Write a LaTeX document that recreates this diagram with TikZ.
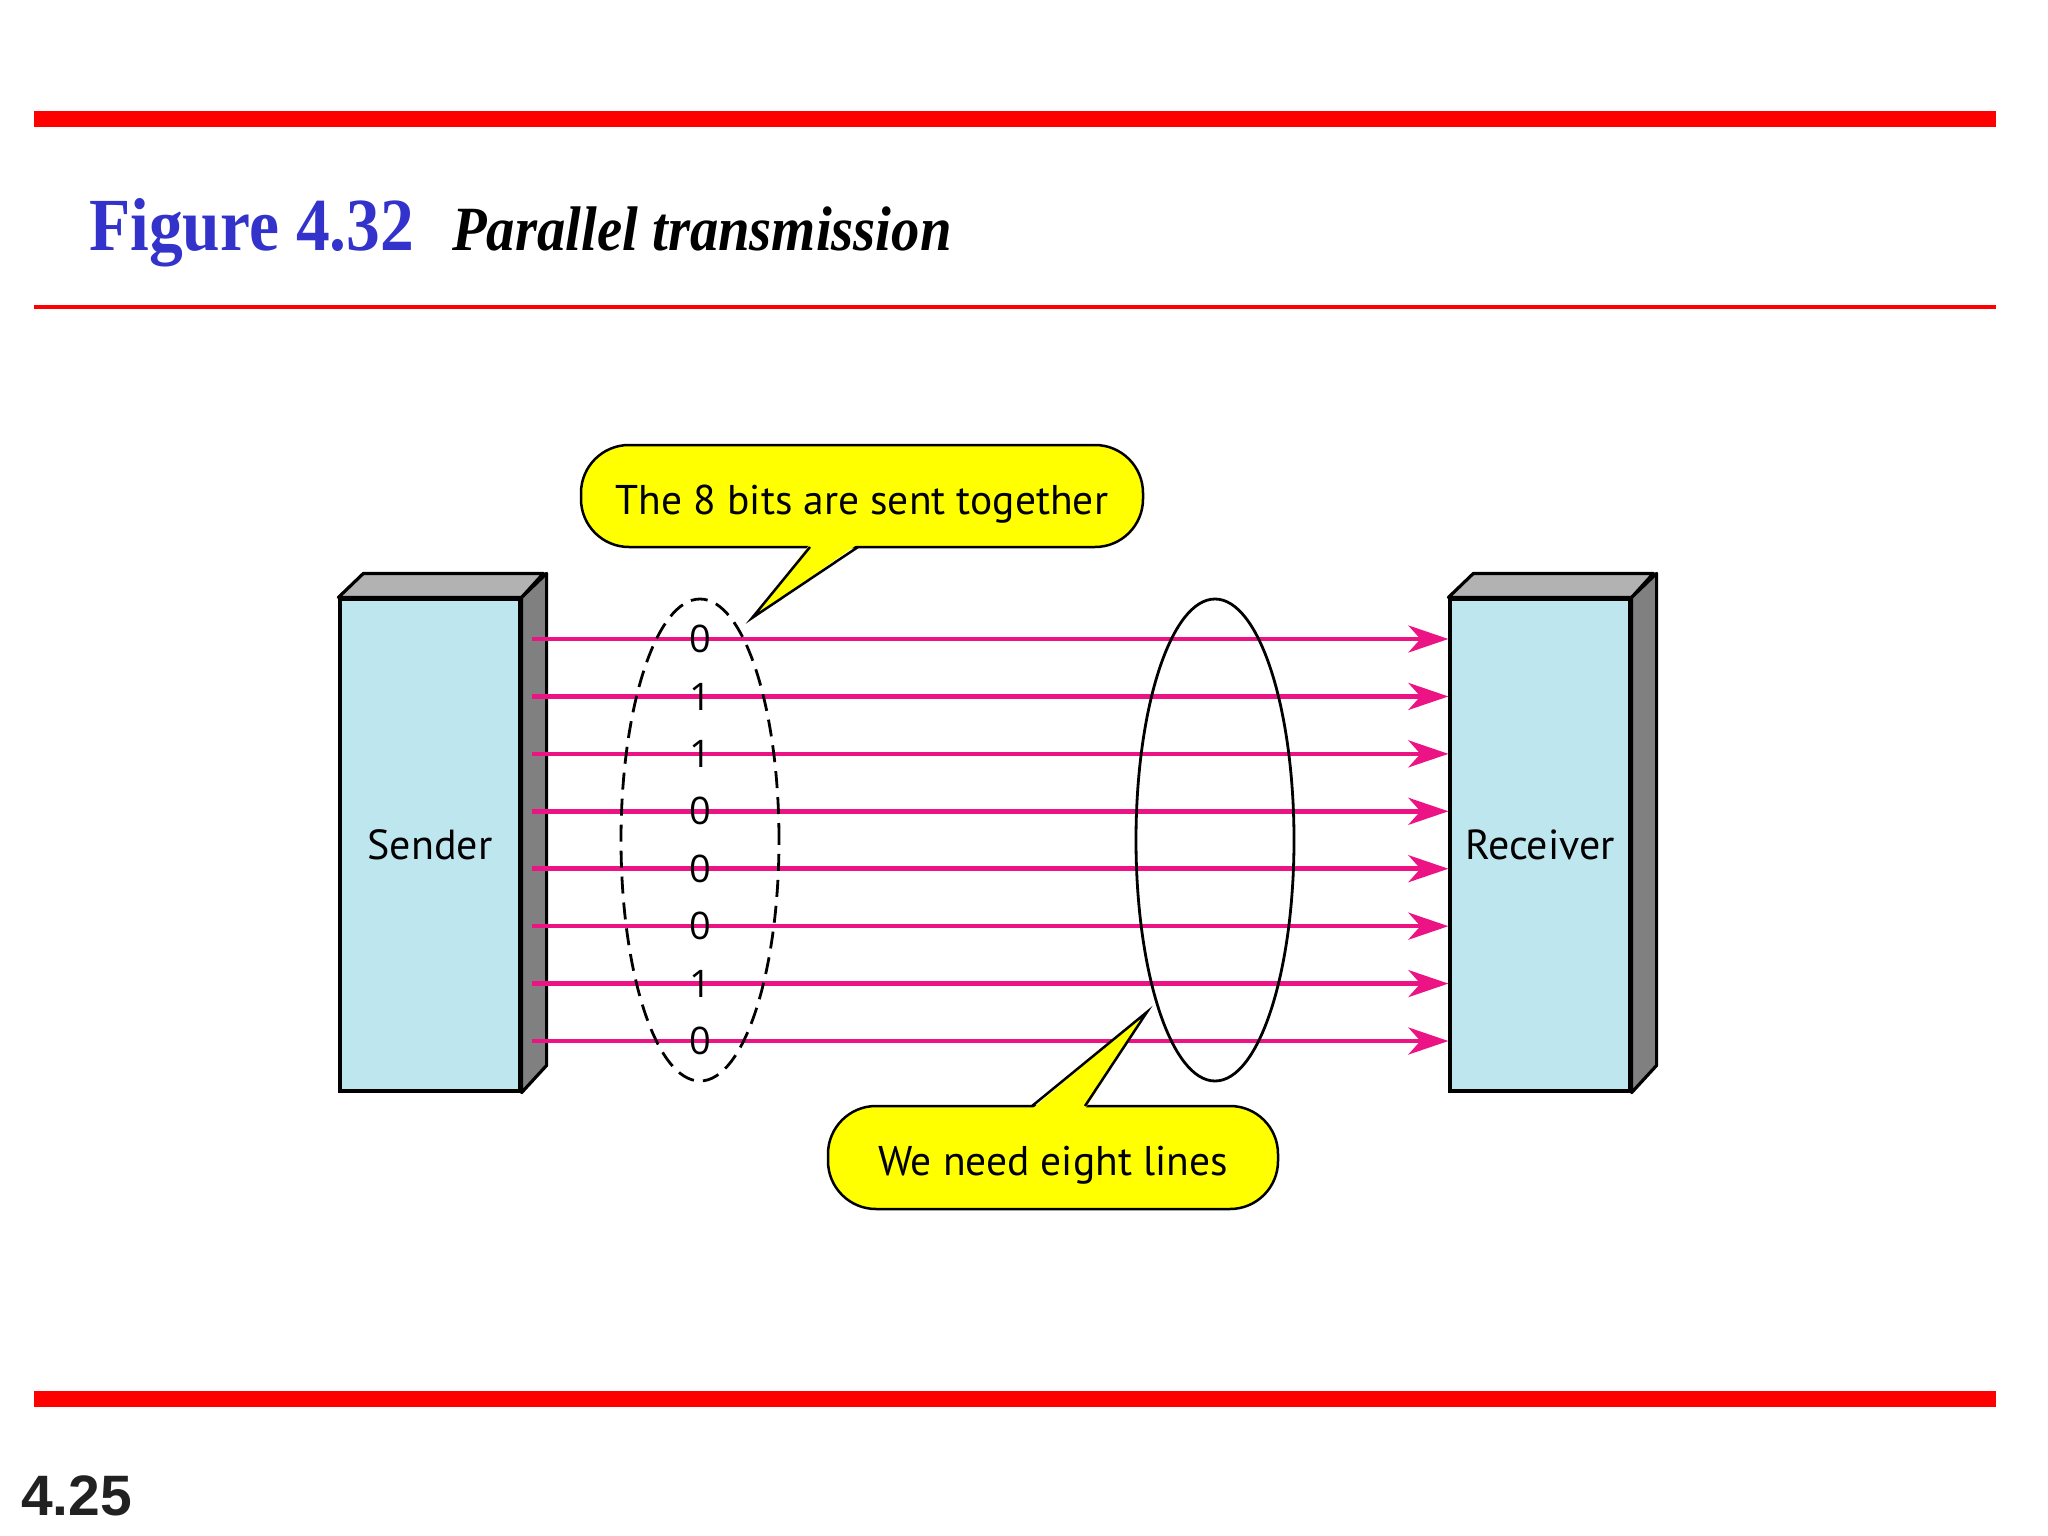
\documentclass[tikz,border=0pt]{standalone}
\usepackage{fontspec}
\usepackage{graphicx}
\setmainfont{PT Sans}
\newfontfamily\timesf{Liberation Serif}
\newfontfamily\arialf{Liberation Sans}
\newfontfamily\digitf{Open Sans}
\usetikzlibrary{arrows.meta,shapes.geometric}
\definecolor{titleblue}{RGB}{51,51,204}
\definecolor{wire}{RGB}{236,20,132}
\definecolor{boxblue}{RGB}{190,230,238}
\definecolor{topgray}{RGB}{178,178,178}
\definecolor{sidegray}{RGB}{128,128,128}
\definecolor{calloutyellow}{RGB}{255,255,0}
\begin{document}
\begin{tikzpicture}[x=1pt,y=-1pt,
  redbar/.style={fill=red,draw=none},
  station/.style={draw=black,line width=3.2pt,fill=boxblue,minimum width=180pt,minimum height=492pt,inner sep=0pt,font=\fontsize{42}{50}\selectfont},
  topface/.style={draw=black,line width=3.2pt,line join=round,fill=topgray},
  sideface/.style={draw=black,line width=3.2pt,line join=round,fill=sidegray},
  wireline/.style={draw=wire,line width=4.5pt,-{Stealth[length=40pt,width=27pt,inset=12pt]}},
  bit/.style={inner sep=0pt,font=\digitf\fontsize{38}{46}\selectfont},
  group/.style={ellipse,draw=black,line width=2.8pt,minimum width=158pt,minimum height=482pt,inner sep=0pt},
  callout/.style={draw=black,line width=2.5pt,fill=calloutyellow,rounded corners=48pt,inner sep=0pt,text height=36pt,text depth=0pt,font=\fontsize{41.5}{49}\selectfont},
  tailside/.style={draw=black,line width=2.5pt,line join=miter}
]
\useasboundingbox (0,0) rectangle (2048,1536);
% rules
\fill[redbar] (34,111) rectangle (1996,127);
\fill[redbar] (34,305) rectangle (1996,309);
\fill[redbar] (34,1391) rectangle (1996,1407);
% title
\node[anchor=base west,inner sep=0pt,text=titleblue,font=\timesf\bfseries\fontsize{75}{80}\selectfont] (fig) at (89,250) {\scalebox{0.9}[1]{Figure 4.32}};
\node[anchor=base west,inner sep=0pt,font=\timesf\bfseries\itshape\fontsize{63}{70}\selectfont] (cap) at (452,250) {\scalebox{0.9}[1]{Parallel transmission}};
\node[anchor=base west,inner sep=0pt,font=\arialf\bfseries\fontsize{57}{60}\selectfont,text=black!87] (pg) at (21,1515) {4.25};
% stations
\node[station] (sender) at (430,845) {Sender};
\node[station] (receiver) at (1540,845) {Receiver};
\foreach \s in {sender,receiver}{
  \filldraw[topface] (\s.north west) -- ++(25,-24) -- ++(180,0) -- (\s.north east) -- cycle;
  \filldraw[sideface] (\s.north east) -- ++(25,-24) -- ++(0,492) -- (\s.south east) -- cycle;
}
% wires
\foreach \i in {1,...,8}{
  \coordinate (s\i) at (532,{639+(\i-1)*57.43});
  \draw[wireline] (s\i) -- (receiver.west |- s\i);
}
% groups
\node[group,dashed,dash pattern=on 17pt off 9pt] (bits) at (700,840) {};
\node[group] (lines) at (1215,840) {};
% bits
\foreach \i/\b in {1/0,2/1,3/1,4/0,5/0,6/0,7/1,8/0}{
  \node[bit] (b\i) at (bits.center |- s\i) {\b};
}
% callouts
\node[callout,minimum width=562pt,minimum height=102pt] (note1) at (862,496) {The 8 bits are sent together};
\fill[calloutyellow] (810,544) -- (752,618) -- (858,544) -- cycle;
\draw[tailside] (810,547) -- (752,618) -- (858,547);
\node[callout,minimum width=450pt,minimum height=103pt] (note2) at (1053,1157.5) {We need eight lines};
\fill[calloutyellow] (1032,1109) -- (1147,1012) -- (1085,1109) -- cycle;
\draw[tailside] (1032,1106) -- (1147,1012) -- (1085,1106);
\end{tikzpicture}
\end{document}
